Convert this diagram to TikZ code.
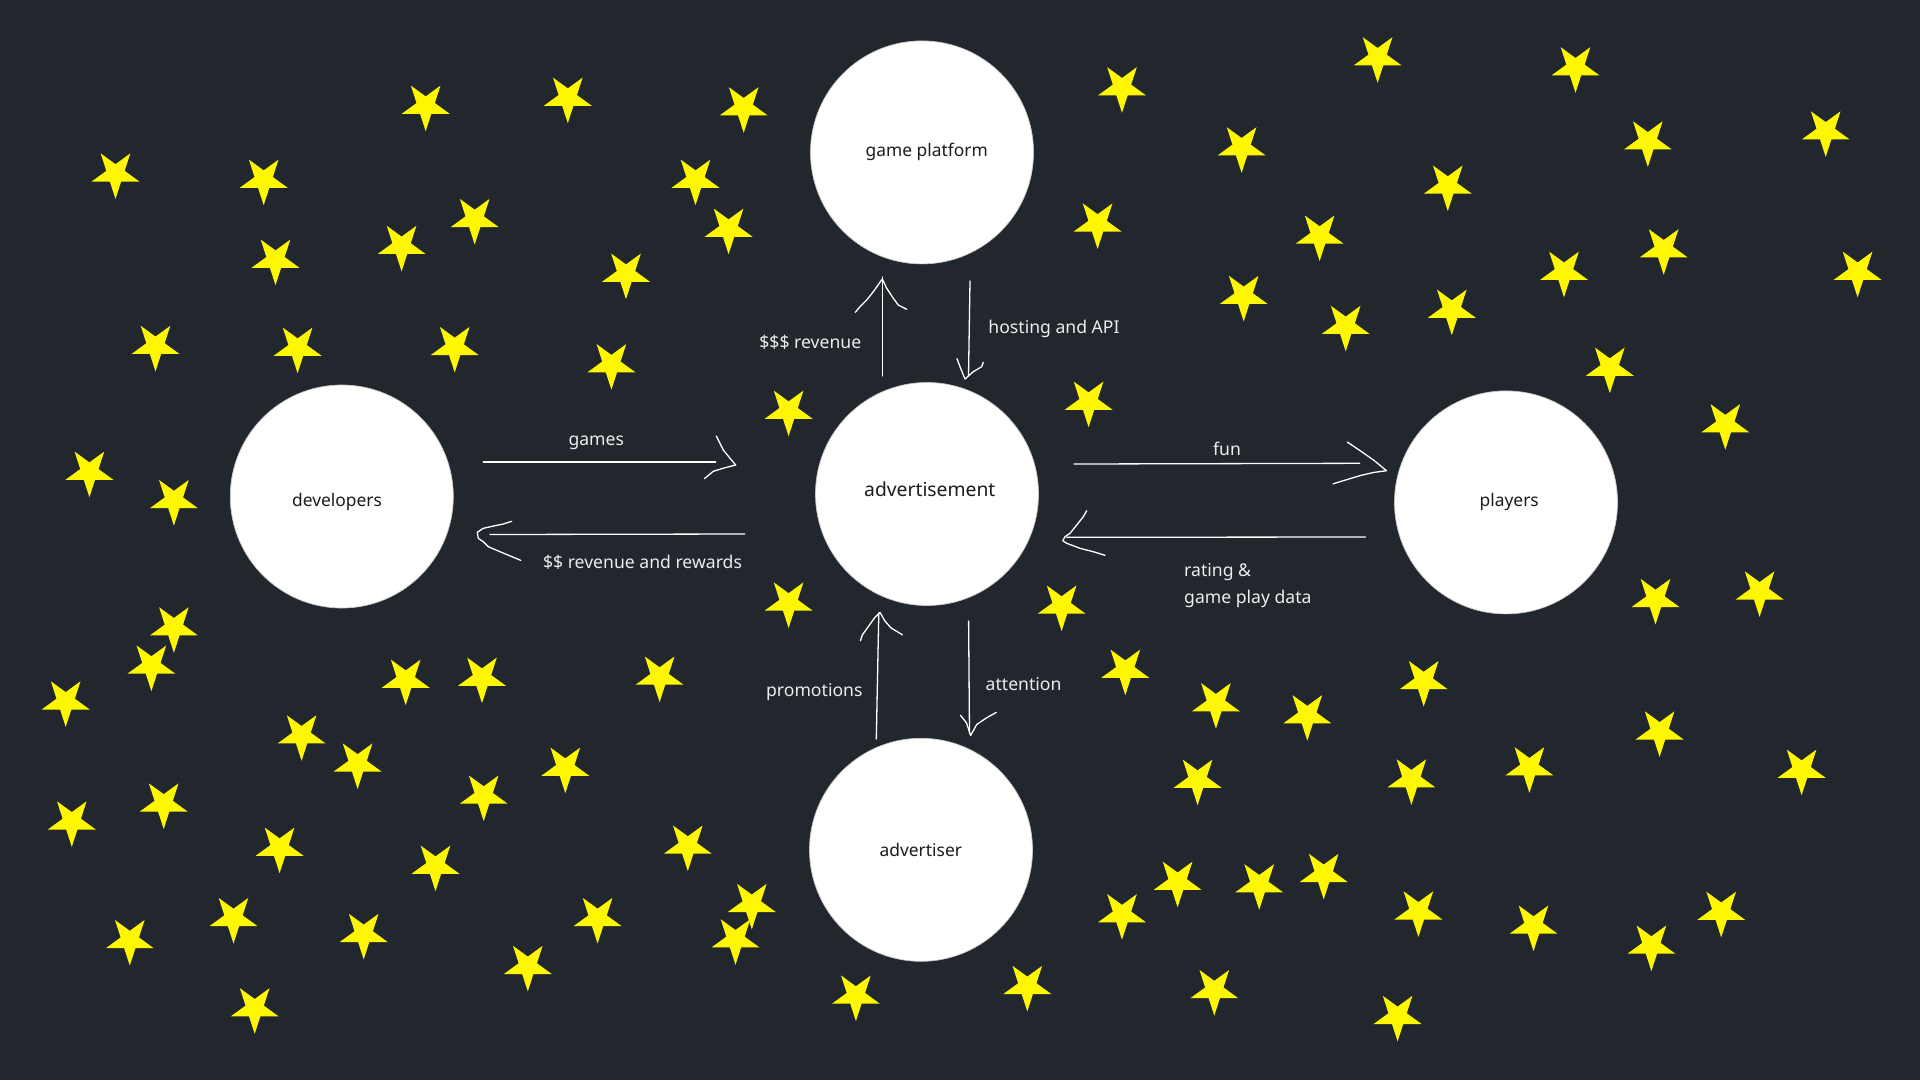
\documentclass[tikz,border=0pt]{standalone}
\usepackage{fontspec}
\setmainfont{Noto Sans}
\definecolor{bgcol}{RGB}{34,39,46}
\definecolor{starcol}{RGB}{255,247,0}
\definecolor{labelcol}{RGB}{236,236,236}
\definecolor{circtext}{RGB}{28,28,28}
\begin{document}
\begin{tikzpicture}[x=1pt,y=-1pt,
  bubble/.style={circle,minimum size=223pt,inner sep=0pt,fill=white,draw=black!22,line width=0.7pt},
  circlbl/.style={anchor=base,inner sep=0pt,text=circtext,font=\fontsize{17.4pt}{20pt}\selectfont},
  biglbl/.style={anchor=base,inner sep=0pt,text=circtext,font=\fontsize{19.3pt}{22pt}\selectfont},
  flowlbl/.style={anchor=base,inner sep=0pt,text=labelcol,font=\fontsize{17.6pt}{21pt}\selectfont},
  hand/.style={draw=white,line width=1.3pt,line cap=round,line join=round},
  yellowstar/.pic={\fill[starcol] (0,25.2) -- (5.66,7.79) -- (23.97,7.79) -- (9.16,-2.98) -- (14.81,-20.39) -- (0,-9.63) -- (-14.81,-20.39) -- (-9.16,-2.98) -- (-23.97,7.79) -- (-5.66,7.79) -- cycle;}
]
\fill[bgcol] (0,0) rectangle (1920,1080);
\useasboundingbox (0,0) rectangle (1920,1080);

% stars
\foreach \sx/\sy in {115.5/173.8, 263.7/180, 425.7/106, 567.8/98, 474.7/219.3, 401.6/246.2, 275.5/260, 626/274, 611.4/364.5, 155.5/346.2, 297.6/348, 454.7/347.3, 89.4/472, 173.9/500.4,
743.7/107.6, 695.5/180, 728.6/229, 1122/87.6, 1241.6/147.6, 1097.6/223.8, 1243.7/296.2, 788.6/411, 1088.6/402,
1377.6/57.6, 1575.5/67.6, 1647.8/141.7, 1825.7/131.7, 1447.8/185.9, 1319.6/235.9, 1564/272.1, 1663.7/249.6, 1857.6/272.1, 1345.7/326.2, 1451.8/310, 1609.8/368, 1725.3/424.5,
173.9/627.6, 151.4/665.9, 65.7/701.7, 405.7/680, 482/678, 301.6/735.6, 357.6/763.8, 483.7/795.9, 565.3/768, 71.8/821.7, 163.7/803.8, 279.6/848, 435.5/866, 233.5/918.3, 129.8/940.4, 363.7/934.2, 597.6/918.3, 527.8/966.2, 254.7/1008.6,
788.6/602.8, 659.6/676.9, 1061.6/605.9, 1125.3/670, 1215.9/703.5, 1197.6/780, 687.8/845.9, 751.8/904.2, 735.5/939.6, 855.9/995.9, 1027.3/986.2, 1122/914.5, 1177.6/882.1, 1259.2/884.6, 1214.3/990.4,
1655.5/599.3, 1759.6/591.7, 1423.7/681.4, 1307.3/715.5, 1659.6/731.7, 1411.4/779.6, 1529.4/767.6, 1801.6/770, 1323.7/874.2, 1418.4/911.7, 1533.5/925.9, 1651.4/945.9, 1721.2/912.1, 1397.6/1016.2}
  \pic at (\sx,\sy) {yellowstar};

% circles
\node[bubble] (plat) at (922,152.4) {};
\node[bubble] (adv) at (927,494) {};
\node[bubble] (dev) at (341.8,496.5) {};
\node[bubble] (play) at (1506,502.4) {};
\node[bubble] (advr) at (921,849.8) {};
\node[circlbl] (platlbl) at (926.8,156) {game platform};
\node[biglbl] (advlbl) at (929.8,496.7) {advertisement};
\node[circlbl] (devlbl) at (337,506.5) {developers};
\node[circlbl] (playlbl) at (1509.2,506.5) {players};
\node[circlbl] (advrlbl) at (920.8,856.6) {advertiser};

% connector end points
\coordinate (gS) at (483.3,462);   \coordinate (gE) at (715.7,462);   \coordinate (gT) at (735.7,465);
\coordinate (rS) at (744.7,534);   \coordinate (rE) at (490,534.5);   \coordinate (rT) at (477.3,532.3);
\coordinate (fS) at (1074,464);    \coordinate (fE) at (1359.6,463.3); \coordinate (fT) at (1386.5,470.7);
\coordinate (dS) at (1365.5,537);  \coordinate (dE) at (1066.7,537.3); \coordinate (dT) at (1062.7,540.7);
\coordinate (pS) at (882.3,376);   \coordinate (pE) at (882.3,277);   \coordinate (pT) at (882.3,279);
\coordinate (hS) at (970,281);     \coordinate (hE) at (968.5,376);   \coordinate (hT) at (965,379);
\coordinate (mS) at (876.3,739);   \coordinate (mE) at (878.8,613);   \coordinate (mT) at (880,612.4);
\coordinate (aS) at (968.6,621);   \coordinate (aE) at (969.5,733);   \coordinate (aT) at (970.6,735.5);

% shafts
\draw[hand] (gS) -- (gE);
\draw[hand] (rS) -- (rE);
\draw[hand] (fS) -- (fE);
\draw[hand] (dS) -- (dE);
\draw[hand] (pS) -- (pE);
\draw[hand] (hS) -- (hE);
\draw[hand] (mS) -- (mE);
\draw[hand] (aS) -- (aE);

% hand-drawn heads
\draw[hand] (gT) +(-19.4,-29) -- +(-12.4,-15) -- +(-5.7,-6.7) -- (gT) -- +(-11.7,3) -- +(-22.4,6.3) -- +(-31.4,13.7);
\draw[hand] (rT) +(34.4,-11) -- +(26,-8.3) -- +(17.7,-6.6) -- +(6,-4) -- (rT) -- +(1,6) -- +(6,9.4) -- +(11,14.4) -- +(22.7,19.4) -- +(43.4,28);
\draw[hand] (fT) +(-39.2,-28.7) -- +(-24.9,-19) -- +(-12.6,-10.4) -- (fT) -- +(-12.6,1.7) -- +(-24.9,4.5) -- +(-33,6.9) -- +(-53.5,13.1);
\draw[hand] (dT) +(24,-30) -- +(20.6,-24) -- +(14,-15.7) -- +(7.3,-7.4) -- +(2.3,-4) -- (dT) -- +(4,2.6) -- +(17.3,7.6) -- +(30.6,11) -- +(42.3,14.6);
\draw[hand] (pT) +(-27,33.3) -- +(-22.3,27.7) -- +(-15.6,21) -- +(-9,12.7) -- (pT) -- +(4.4,9.3) -- +(11,19.3) -- +(16,26) -- +(24.4,30.3);
\draw[hand] (hT) +(-8,-20.3) -- +(-5,-12.3) -- (hT) -- +(8.3,-7.3) -- +(16.7,-12.3) -- +(18.3,-16.7);
\draw[hand] (mT) +(-19.6,28.3) -- +(-17.6,22.4) -- +(-11.4,13.8) -- +(-5.3,5.2) -- (mT) -- +(4.9,8.6) -- +(11,15.5) -- +(22.4,22.4);
\draw[hand] (aT) +(-10.2,-20.3) -- +(-4.1,-12.7) -- (aT) -- +(6.1,-11) -- +(16.3,-17.9) -- +(25.7,-23.1);

% connector labels
\node[flowlbl] (lgames) at (596.3,445) {games};
\node[flowlbl] (lrev) at (642.5,568) {\$\$ revenue and rewards};
\node[flowlbl] (lfun) at (1227,455.9) {fun};
\node[flowlbl,anchor=base west] (lrate1) at (1184,576) {rating \&};
\node[flowlbl,anchor=base west] (lrate2) at (1184,603) {game play data};
\node[flowlbl] (lpay) at (810.3,348) {\$\$\$ revenue};
\node[flowlbl] (lhost) at (1054,333.3) {hosting and API};
\node[flowlbl] (lpromo) at (814.3,696.6) {promotions};
\node[flowlbl] (latt) at (1023.6,690) {attention};
\end{tikzpicture}
\end{document}
